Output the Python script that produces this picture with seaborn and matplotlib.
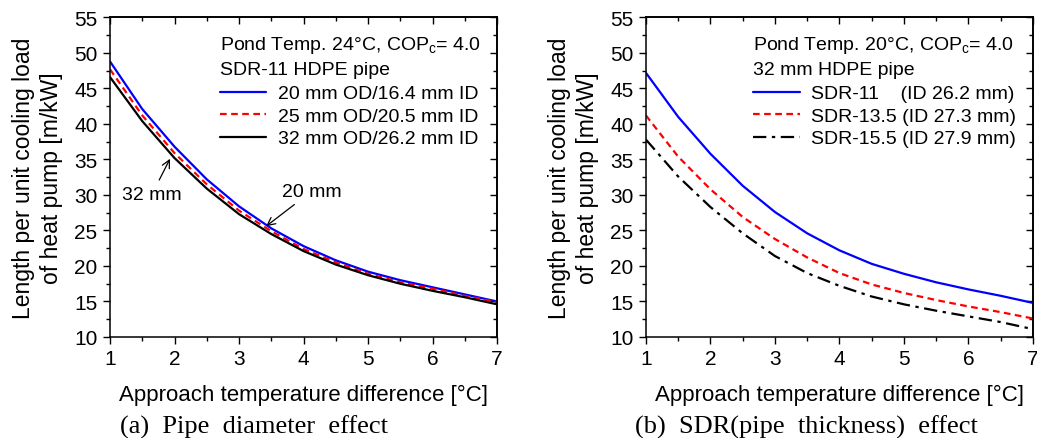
"""Pond heat exchanger length vs approach temperature difference."""

import matplotlib
matplotlib.use("Agg")
import matplotlib.pyplot as plt
from matplotlib.ticker import MultipleLocator
import seaborn as sns

# approach temperature difference [C]
dt = [1.0, 1.5, 2.0, 2.5, 3.0, 3.5, 4.0, 4.5, 5.0, 5.5, 6.0, 6.5, 7.0]

# (a) pipe diameter effect, SDR-11, pond 24 C
od20 = [48.8, 42.1, 36.8, 32.2, 28.4, 25.3, 22.8, 20.8, 19.2, 18.0, 17.0, 16.0, 15.0]
od25 = [47.7, 41.2, 35.9, 31.5, 27.8, 24.9, 22.4, 20.5, 18.9, 17.7, 16.8, 15.8, 14.9]
od32 = [46.6, 40.4, 35.2, 30.9, 27.3, 24.5, 22.1, 20.2, 18.7, 17.5, 16.5, 15.6, 14.6]

# (b) SDR effect, 32 mm pipe, pond 20 C
sdr11 = [47.2, 41.0, 35.8, 31.3, 27.6, 24.6, 22.2, 20.3, 18.9, 17.7, 16.7, 15.8, 14.8]
sdr135 = [41.2, 35.4, 30.8, 26.9, 23.8, 21.2, 19.0, 17.4, 16.2, 15.2, 14.3, 13.5, 12.6]
sdr155 = [37.8, 32.6, 28.3, 24.6, 21.4, 19.0, 17.2, 15.7, 14.6, 13.7, 12.9, 12.1, 11.1]

labels_a = ["20 mm OD/16.4 mm ID", "25 mm OD/20.5 mm ID", "32 mm OD/26.2 mm ID"]
labels_b = ["SDR-11    (ID 26.2 mm)", "SDR-13.5 (ID 27.3 mm)", "SDR-15.5 (ID 27.9 mm)"]

sns.set_theme(style="ticks")
plt.rcParams["font.family"] = ["Liberation Sans", "DejaVu Sans"]
plt.rcParams["mathtext.fontset"] = "custom"
plt.rcParams["mathtext.rm"] = "Liberation Sans"
plt.rcParams["mathtext.it"] = "Liberation Sans"
for key in ["text.color", "axes.labelcolor", "xtick.color", "ytick.color", "axes.edgecolor"]:
    plt.rcParams[key] = "black"

colors = ["#0000ff", "#ff0000", "#000000"]
styles_a = ["-", (0, (3, 2)), "-"]
styles_b = ["-", (0, (3, 2)), (0, (6, 2.5, 1.5, 2.5))]

fig = plt.figure(figsize=(10.37, 4.39), dpi=100)
ax_a = fig.add_axes([0.1061, 0.2301, 0.3732, 0.7278])
ax_b = fig.add_axes([0.6229, 0.2301, 0.3732, 0.7278])


def draw_panel(ax, series, labels, styles, title):
    for ys, lab, col, ls in zip(series, labels, colors, styles):
        sns.lineplot(x=dt, y=ys, ax=ax, color=col, linestyle=ls, linewidth=1.6, label=lab)
    ax.set_xlim(1, 7)
    ax.set_ylim(10, 55)
    ax.xaxis.set_major_locator(MultipleLocator(1))
    ax.xaxis.set_minor_locator(MultipleLocator(0.5))
    ax.yaxis.set_major_locator(MultipleLocator(5))
    ax.yaxis.set_minor_locator(MultipleLocator(2.5))
    ax.tick_params(which="both", direction="out", top=False, right=False, labelsize=15, width=1.0)
    ax.tick_params(which="major", length=5, pad=4)
    ax.tick_params(which="minor", length=3)
    # mirrored inward ticks on top/right
    sec_x = ax.secondary_xaxis("top")
    sec_x.xaxis.set_major_locator(MultipleLocator(1))
    sec_x.xaxis.set_minor_locator(MultipleLocator(0.5))
    sec_x.tick_params(which="both", direction="in", labeltop=False, width=1.0)
    sec_x.tick_params(which="major", length=5)
    sec_x.tick_params(which="minor", length=3)
    sec_y = ax.secondary_yaxis("right")
    sec_y.yaxis.set_major_locator(MultipleLocator(5))
    sec_y.yaxis.set_minor_locator(MultipleLocator(2.5))
    sec_y.tick_params(which="both", direction="in", labelright=False, width=1.0)
    sec_y.tick_params(which="major", length=5)
    sec_y.tick_params(which="minor", length=3)
    for sp in ax.spines.values():
        sp.set_visible(True)
        sp.set_linewidth(1.1)
    ax.set_xlabel("Approach temperature difference [°C]", fontsize=16, labelpad=11)
    ax.set_ylabel("Length per unit cooling load\nof heat pump [m/kW]", fontsize=16.5, labelpad=8,
                  linespacing=1.3)
    leg = ax.legend(title=title, loc="upper right", frameon=False, fontsize=14, title_fontsize=14,
                    alignment="left", handlelength=2.4, handletextpad=0.6, labelspacing=0.25,
                    borderaxespad=0.55, borderpad=0.3)
    leg.get_title().set_linespacing(1.45)
    leg._legend_box.sep = 5


draw_panel(ax_a, [od20, od25, od32], labels_a, styles_a,
           "Pond Temp. 24°C, COP$_\\mathrm{c}$= 4.0\nSDR-11 HDPE pipe")
draw_panel(ax_b, [sdr11, sdr135, sdr155], labels_b, styles_b,
           "Pond Temp. 20°C, COP$_\\mathrm{c}$= 4.0\n32 mm HDPE pipe")

ax_a.annotate("32 mm", xy=(1.93, 35.1), xytext=(1.65, 30.1), fontsize=14, ha="center", va="center",
              arrowprops=dict(arrowstyle="->", color="black", lw=0.9, shrinkA=2, shrinkB=0))
ax_a.annotate("20 mm", xy=(3.42, 25.6), xytext=(4.13, 30.55), fontsize=14, ha="center", va="center",
              arrowprops=dict(arrowstyle="->", color="black", lw=0.9, shrinkA=2, shrinkB=0))

fig.text(0.116, 0.012, "(a)  Pipe  diameter  effect", fontsize=19, family="Liberation Serif")
fig.text(0.612, 0.012, "(b)  SDR(pipe  thickness)  effect", fontsize=19, family="Liberation Serif")

fig.savefig("out.png", dpi=100)
